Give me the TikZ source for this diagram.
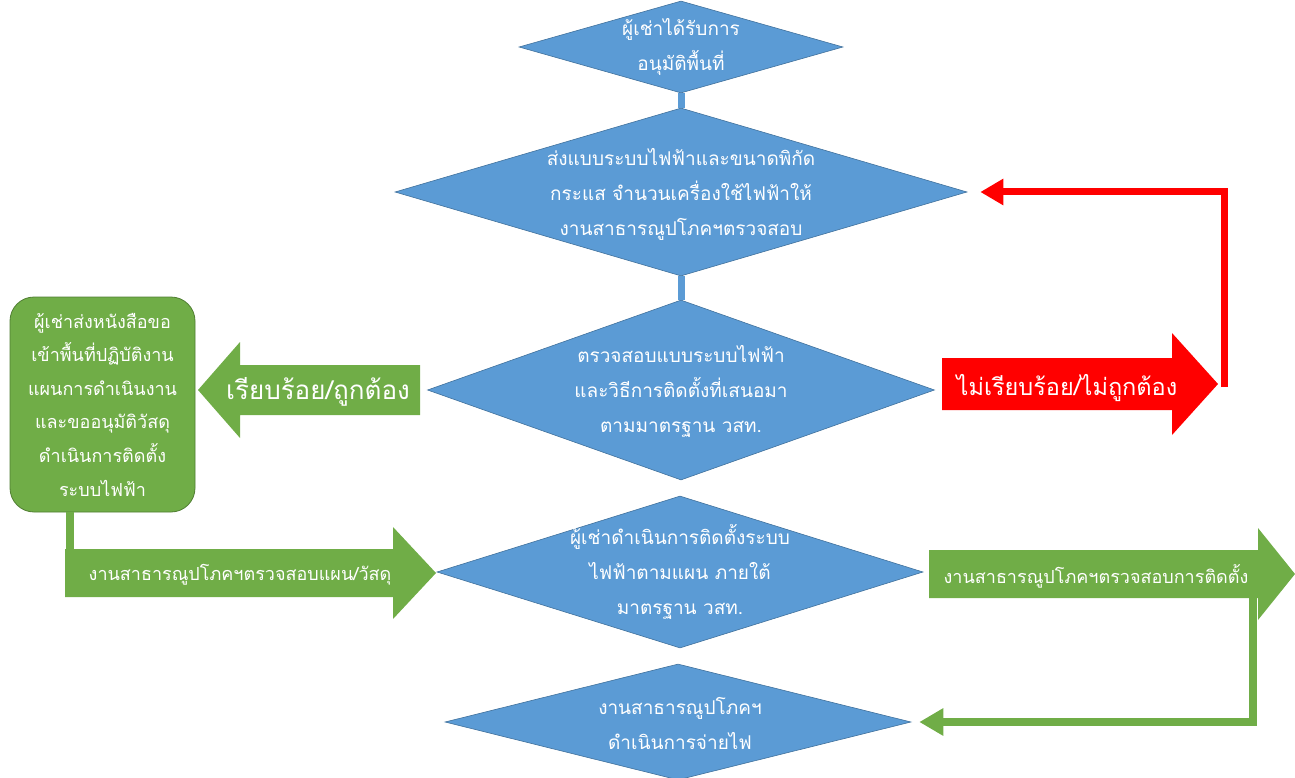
\documentclass[tikz,border=0pt]{standalone}
\usepackage{fontspec}
\setmainfont[Script=Thai]{Loma}
\usetikzlibrary{shapes.geometric,arrows.meta}
\definecolor{bblue}{HTML}{5B9BD5}
\definecolor{bblueD}{HTML}{41719C}
\definecolor{ggreen}{HTML}{70AD47}
\definecolor{ggreenD}{HTML}{507E32}
\definecolor{rred}{HTML}{FF0000}
\newcommand\blockarr[7]{\fill[#7] (#1,{#3-#4}) -- (#2,{#3-#4}) -- (#2,{#3-#5}) -- (#6,#3) -- (#2,{#3+#5}) -- (#2,{#3+#4}) -- (#1,{#3+#4}) -- cycle;}
\begin{document}
\begin{tikzpicture}[x=1pt,y=-1pt,
  dia/.style={diamond, draw=bblueD, line width=0.6pt, fill=bblue, inner sep=0pt},
  txt/.style={text=white, align=center, font=\fontsize{19}{35}\selectfont},
  btxt/.style={text=white, align=center, font=\fontsize{18}{33.6}\selectfont},
  atxt/.style={text=white, font=\fontsize{26}{30}\selectfont},
  rtxt/.style={text=white, font=\fontsize{23.5}{28}\selectfont},
  stxt/.style={text=white, font=\fontsize{18}{22}\selectfont},
  bline/.style={draw=bblue, line width=7pt},
  gline/.style={draw=ggreen, line width=8pt},
  rline/.style={draw=rred, line width=7pt}]
\useasboundingbox (0,0) rectangle (1295,778);
% diamonds
\node[dia, minimum width=324pt, minimum height=92pt] (d1) at (681,47) {};
\node[dia, minimum width=572pt, minimum height=168pt] (d2) at (681,192) {};
\node[dia, minimum width=507pt, minimum height=180pt] (d3) at (681,390) {};
\node[dia, minimum width=486pt, minimum height=152pt] (d4) at (680,572) {};
\node[dia, minimum width=466pt, minimum height=116pt] (d5) at (678,722) {};
\node[txt] (t1) at (681,47) {ผู้เช่าได้รับการ\\อนุมัติพื้นที่};
\node[txt] (t2) at (681,194) {ส่งแบบระบบไฟฟ้าและขนาดพิกัด\\กระแส จำนวนเครื่องใช้ไฟฟ้าให้\\งานสาธารณูปโภคฯตรวจสอบ};
\node[txt] (t3) at (681,391) {ตรวจสอบแบบระบบไฟฟ้า\\และวิธีการติดตั้งที่เสนอมา\\ตามมาตรฐาน วสท.};
\node[txt] (t4) at (680,572) {ผู้เช่าดำเนินการติดตั้งระบบ\\ไฟฟ้าตามแผน ภายใต้\\มาตรฐาน วสท.};
\node[txt] (t5) at (680,723) {งานสาธารณูปโภคฯ\\ดำเนินการจ่ายไฟ};
% connectors between diamonds
\draw[bline] (d1.south) -- (d2.north);
\draw[bline] (d2.south) -- (d3.north);
% green box
\node[draw=ggreenD, line width=0.8pt, fill=ggreen, rounded corners=24pt, minimum width=185pt, minimum height=215pt, inner sep=0pt] (box) at (102.5,404.5) {};
\node[btxt] (tb) at (box) {ผู้เช่าส่งหนังสือขอ\\เข้าพื้นที่ปฏิบัติงาน\\แผนการดำเนินงาน\\และขออนุมัติวัสดุ\\ดำเนินการติดตั้ง\\ระบบไฟฟ้า};
% block arrows
\blockarr{420}{240}{390}{25}{48}{198}{ggreen}
\node[atxt] (ok) at (318,392) {เรียบร้อย/ถูกต้อง};
\blockarr{942}{1172}{384}{26}{51}{1218}{rred}
\node[rtxt] (nok) at (1067,388) {ไม่เรียบร้อย/ไม่ถูกต้อง};
\draw[gline] ([xshift=-33pt]box.south) -- ++(0,42);
\blockarr{65}{393}{573}{24}{46}{436}{ggreen}
\node[stxt] (g1) at (240,575) {งานสาธารณูปโภคฯตรวจสอบแผน/วัสดุ};
\blockarr{929}{1258}{574}{24}{46}{1295}{ggreen}
\node[stxt] (g2) at (1096,576) {งานสาธารณูปโภคฯตรวจสอบการติดตั้ง};
% loops
\draw[rline, -{Triangle[length=23pt,width=25pt]}] (1224,387) |- ([xshift=13pt]d2.east);
\draw[gline, -{Triangle[length=24pt,width=26pt]}] (1253,596) |- ([xshift=8pt]d5.east);
\end{tikzpicture}
\end{document}
